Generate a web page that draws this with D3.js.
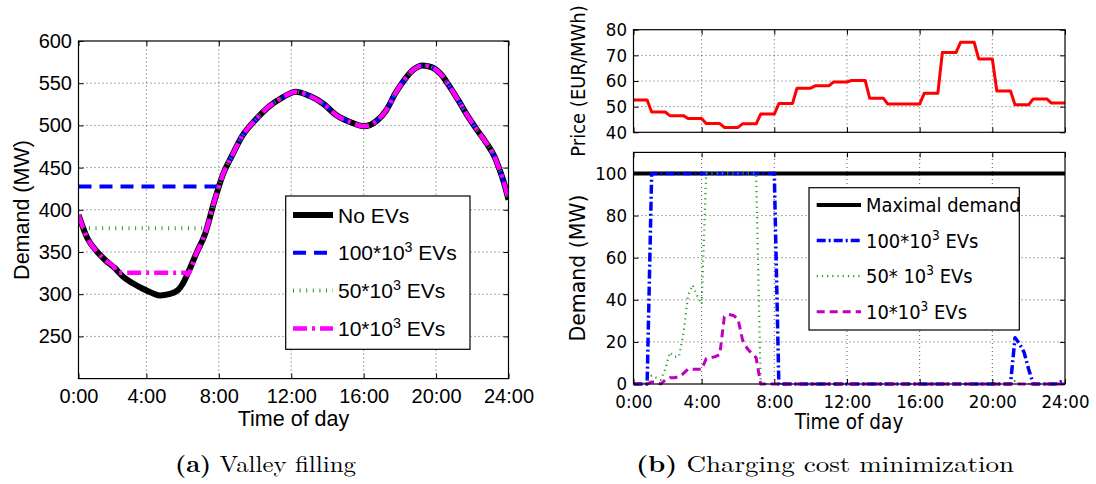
<!DOCTYPE html>
<html>
<head>
<meta charset="utf-8">
<script src="https://cdn.jsdelivr.net/npm/d3@7"></script>
<style>
  body { margin: 0; background: #fff; }
  svg { display: block; }
</style>
</head>
<body>
<svg id="fig" width="1096" height="484"></svg>
<script>
// ---------- shared time axis (quarter-hour samples, first sample = 0:00 label)
const timeTickHours  = [0.25, 4, 8, 12, 16, 20, 24];
const timeTickLabels = ["0:00", "4:00", "8:00", "12:00", "16:00", "20:00", "24:00"];

// ---------- (a) valley filling: demand without EVs (MW)
const baseHours  = [0.25, 0.75, 1.25, 1.75, 2.25, 2.75, 3.25, 3.75, 4.25, 4.75, 5.25, 5.75, 6, 6.25, 6.75, 7.25,
                    7.75, 8.25, 8.75, 9.25, 10, 10.75, 11.5, 12.25, 13, 13.75, 14.5, 15.25, 16, 16.75, 17.25, 17.75,
                    18.25, 18.75, 19.25, 19.75, 20.25, 20.75, 21.25, 21.75, 22.25, 22.75, 23.25, 23.5, 23.75, 24];
const baseDemand = [394, 366, 351, 340, 331, 320, 313, 307, 302, 298.5, 300, 305, 312, 323, 348, 372,
                    410, 443, 465, 486, 506, 522, 533, 540, 535, 526, 512, 504, 499, 506, 518, 538,
                    554, 566, 571, 569, 561, 546, 529, 511, 495, 480, 462, 448, 432, 412];

// flat valley levels (MW) and the hours over which each fleet fills the valley
const ev100Level = 427.5, ev100Spans = [[0.25, 8.0], [23.8, 24]];
const ev50Level  = 378,   ev50Spans  = [[0.55, 7.3]];
const ev10Level  = 325.5, ev10Spans  = [[2.4, 6.2]];
const demandTicks = [250, 300, 350, 400, 450, 500, 550, 600];

// ---------- (b) charging cost minimization
// hourly day-ahead price (EUR/MWh), hour 0 .. 23
const hourlyPrice = [52.6, 47.9, 46.5, 45.4, 43.4, 41.9, 43.3, 47.1, 51.2, 57.2, 58.1, 59.6,
                     60.2, 53.3, 51.0, 51.0, 55.2, 71.1, 75.1, 68.6, 56.1, 50.7, 53.0, 51.4];
const priceTicks = [40, 50, 60, 70, 80];

// charging demand (MW) at the listed sample hours
const maxHours = [0.25, 24];
const maxDemand = [100, 100];
const ev100Hours = [0.25, 1, 1.25, 8, 8.25, 21, 21.25, 21.5, 21.75, 22, 22.25, 23.5, 23.75, 24];
const ev100Load  = [0, 0, 100, 100, 0, 0, 22, 19, 15, 7, 0, 0, 1, 1];
const ev50Hours  = [0.25, 0.75, 1, 1.25, 1.5, 1.75, 2, 2.25, 2.5, 2.75, 3, 3.25, 3.5, 3.75, 4, 4.25,
                    7, 7.25, 21, 21.25, 21.5, 24];
const ev50Load   = [0, 0, 1, 4, 3, 2, 7, 15, 13, 13, 24, 42, 47, 42, 38, 100,
                    100, 0, 0, 1.5, 0, 0];
const ev10Hours  = [0.25, 1, 1.25, 1.5, 1.75, 2, 2.25, 2.5, 2.75, 3, 3.25, 3.5, 3.75, 4, 4.25, 4.5,
                    4.75, 5, 5.25, 5.5, 5.75, 6, 6.25, 6.5, 6.75, 7, 7.25, 24];
const ev10Load   = [0, 0, 1, 1, 0, 2, 3, 3, 3.5, 5, 7, 7, 7, 7, 12, 12.5,
                    13, 14, 32, 33, 32.5, 31, 21, 17, 14.5, 12.5, 0, 0];
const loadTicks = [0, 20, 40, 60, 80, 100];

const svg = d3.select("#fig");
const SANS_A = "'Liberation Sans', Arial, Helvetica, sans-serif";
const SANS_B = "'DejaVu Sans', 'Bitstream Vera Sans', sans-serif";
const SQZ = 0.9;            // horizontal squeeze of panel (b) lettering

// ---------- helpers
function zip(xs, ys) { return xs.map((x, i) => [x, ys[i]]); }

function filledCurve(level, spans) {
  let pts = zip(baseHours, baseDemand);
  spans.forEach(([a, b]) => {
    pts = pts.filter(p => p[0] < a || p[0] > b);
    pts.push([a, level], [b, level]);
  });
  return pts.sort((p, q) => p[0] - q[0]);
}

function stepPoints(values) {
  const pts = [];
  values.forEach((v, h) => { pts.push([h + 0.25, v], [h + 1, v]); });
  return pts;
}

function gridLines(g, xs, ys, xVals, yVals) {
  const [xa, xb] = xs.range(), [yb, yt] = ys.range();
  g.selectAll(null).data(xVals).join("line")
    .attr("x1", d => xs(d)).attr("x2", d => xs(d)).attr("y1", yb).attr("y2", yt)
    .attr("stroke", "#444").attr("stroke-width", 0.9).attr("stroke-dasharray", "1,3");
  g.selectAll(null).data(yVals).join("line")
    .attr("y1", d => ys(d)).attr("y2", d => ys(d)).attr("x1", xa).attr("x2", xb)
    .attr("stroke", "#444").attr("stroke-width", 0.9).attr("stroke-dasharray", "1,3");
}

// inward ticks on all four sides, labels on bottom/left when requested
function axesBox(g, xs, ys, yTicks, o) {
  const [xa, xb] = xs.range(), [yb, yt] = ys.range();
  const fmtX = o.xLabels ? ((d, i) => timeTickLabels[i]) : (() => "");
  const style = sel => sel.attr("font-family", o.font).attr("font-size", o.size);

  const bottom = g.append("g").attr("transform", `translate(0,${yb})`)
    .call(d3.axisBottom(xs).tickValues(timeTickHours).tickFormat(fmtX)
      .tickSizeInner(-5).tickSizeOuter(0).tickPadding(o.xPad));
  const top = g.append("g").attr("transform", `translate(0,${yt})`)
    .call(d3.axisTop(xs).tickValues(timeTickHours).tickFormat(() => "")
      .tickSizeInner(-5).tickSizeOuter(0));
  const left = g.append("g").attr("transform", `translate(${xa},0)`)
    .call(d3.axisLeft(ys).tickValues(yTicks)
      .tickSizeInner(-5).tickSizeOuter(0).tickPadding(o.yPad));
  const right = g.append("g").attr("transform", `translate(${xb},0)`)
    .call(d3.axisRight(ys).tickValues(yTicks).tickFormat(() => "")
      .tickSizeInner(-5).tickSizeOuter(0));
  [bottom, top, left, right].forEach(a => {
    style(a);
    a.select(".domain").remove();
    a.selectAll("line").attr("stroke", "#000").attr("stroke-width", 1);
    a.selectAll("text").attr("fill", "#000");
    if (o.squeeze) a.selectAll("text").attr("transform", `scale(${o.squeeze},1)`);
  });
  g.append("rect").attr("x", xa).attr("y", yt).attr("width", xb - xa).attr("height", yb - yt)
    .attr("fill", "none").attr("stroke", "#000").attr("stroke-width", 1.2);
}

function clipRect(id, xs, ys) {
  const [xa, xb] = xs.range(), [yb, yt] = ys.range();
  svg.append("clipPath").attr("id", id).append("rect")
    .attr("x", xa).attr("y", yt - 4).attr("width", xb - xa).attr("height", yb - yt + 8);
  return `url(#${id})`;
}

function evLabel(sel, lead, tail) {
  sel.append("tspan").text(lead);
  sel.append("tspan").attr("dy", -8).attr("font-size", "0.68em").text("3");
  sel.append("tspan").attr("dy", 8).text(tail);
}

// =====================================================================
// (a) Valley filling
// =====================================================================
const xA = d3.scaleLinear().domain([0.25, 24]).range([78.5, 508.5]);
const yA = d3.scaleLinear().domain([200, 600]).range([378.6, 41]);
const gA = svg.append("g");

gridLines(gA, xA, yA, timeTickHours.slice(1, -1), demandTicks.slice(0, -1));

const lineA = d3.line().x(d => xA(d[0])).y(d => yA(d[1])).curve(d3.curveMonotoneX);
const seriesA = [
  { pts: zip(baseHours, baseDemand), color: "#000", w: 6, dash: null, label: ["No EVs"] },
  { pts: filledCurve(ev100Level, ev100Spans), color: "#0000ff", w: 4, dash: "13,8", label: ["100*10", " EVs"] },
  { pts: filledCurve(ev50Level, ev50Spans), color: "#2a9a2a", w: 4, dash: "1,5.6", label: ["50*10", " EVs"] },
  { pts: filledCurve(ev10Level, ev10Spans), color: "#ff00ff", w: 4.5, dash: "14,5,3,5", label: ["10*10", " EVs"] }
];
const plotA = gA.append("g").attr("clip-path", clipRect("clipA", xA, yA));
seriesA.forEach(s => {
  plotA.append("path").attr("d", lineA(s.pts)).attr("fill", "none")
    .attr("stroke", s.color).attr("stroke-width", s.w)
    .attr("stroke-dasharray", s.dash).attr("stroke-linejoin", "round");
});

axesBox(gA, xA, yA, demandTicks, { xLabels: true, font: SANS_A, size: 20, xPad: 10, yPad: 6.5 });

gA.append("text").attr("x", 293.5).attr("y", 426).attr("text-anchor", "middle")
  .attr("font-family", SANS_A).attr("font-size", 21.5).text("Time of day");
gA.append("text").attr("transform", "translate(29,210) rotate(-90)").attr("text-anchor", "middle")
  .attr("font-family", SANS_A).attr("font-size", 21.5).text("Demand (MW)");

// legend (a)
const legA = gA.append("g");
legA.append("rect").attr("x", 285.7).attr("y", 196).attr("width", 184.3).attr("height", 153.3)
  .attr("fill", "#fff").attr("stroke", "#000").attr("stroke-width", 1.2);
seriesA.forEach((s, i) => {
  const y = 215 + i * 37.8;
  legA.append("line").attr("x1", 293).attr("x2", 333).attr("y1", y).attr("y2", y)
    .attr("stroke", s.color).attr("stroke-width", s.w).attr("stroke-dasharray", s.dash);
  const t = legA.append("text").attr("x", 338).attr("y", y + 7.5)
    .attr("font-family", SANS_A).attr("font-size", 21);
  if (s.label.length === 1) t.text(s.label[0]); else evLabel(t, s.label[0], s.label[1]);
});

// =====================================================================
// (b) Charging cost minimization
// =====================================================================
const xB = d3.scaleLinear().domain([0.25, 24]).range([633.5, 1065]);
const yP = d3.scaleLinear().domain([40, 80]).range([132.3, 29.7]);
const yD = d3.scaleLinear().domain([0, 110]).range([384, 152.4]);
const gB = svg.append("g");

// price panel
gridLines(gB, xB, yP, timeTickHours.slice(1, -1), priceTicks.slice(1, -1));
const lineP = d3.line().x(d => xB(d[0])).y(d => yP(d[1]));
gB.append("g").attr("clip-path", clipRect("clipP", xB, yP))
  .append("path").attr("d", lineP(stepPoints(hourlyPrice)))
  .attr("fill", "none").attr("stroke", "#ff0000").attr("stroke-width", 3).attr("stroke-linejoin", "round");
axesBox(gB, xB, yP, priceTicks, { xLabels: false, font: SANS_B, size: 18.5, xPad: 10, yPad: 6.5 / SQZ, squeeze: SQZ });

// charging demand panel
gridLines(gB, xB, yD, timeTickHours.slice(1, -1), loadTicks.slice(1));
const lineD = d3.line().x(d => xB(d[0])).y(d => yD(d[1]));
const seriesB = [
  { pts: zip(maxHours, maxDemand), color: "#000", w: 4, dash: null, label: ["Maximal demand"] },
  { pts: zip(ev100Hours, ev100Load), color: "#0000ff", w: 3.5, dash: "9,3,2,3", label: ["100*10", " EVs"] },
  { pts: zip(ev50Hours, ev50Load), color: "#2e9e2e", w: 2.2, dash: "1.2,4", label: ["50* 10", " EVs"] },
  { pts: zip(ev10Hours, ev10Load), color: "#c000c0", w: 3, dash: "8,5", label: ["10*10", " EVs"] }
];
const plotD = gB.append("g").attr("clip-path", clipRect("clipD", xB, yD));
seriesB.forEach(s => {
  plotD.append("path").attr("d", lineD(s.pts)).attr("fill", "none")
    .attr("stroke", s.color).attr("stroke-width", s.w)
    .attr("stroke-dasharray", s.dash).attr("stroke-linejoin", "round");
});
axesBox(gB, xB, yD, loadTicks, { xLabels: true, font: SANS_B, size: 18.5, xPad: 10.5, yPad: 6.5 / SQZ, squeeze: SQZ });

gB.append("text").attr("transform", `translate(849,429) scale(${SQZ},1)`).attr("text-anchor", "middle")
  .attr("font-family", SANS_B).attr("font-size", 20.5).text("Time of day");
gB.append("text").attr("transform", `translate(585,81) rotate(-90) scale(${SQZ},1)`).attr("text-anchor", "middle")
  .attr("font-family", SANS_B).attr("font-size", 20).text("Price (EUR/MWh)");
gB.append("text").attr("transform", "translate(585,268) rotate(-90) scale(0.93,1)").attr("text-anchor", "middle")
  .attr("font-family", SANS_B).attr("font-size", 22).text("Demand (MW)");

// legend (b)
const legB = gB.append("g");
legB.append("rect").attr("x", 809).attr("y", 187.7).attr("width", 210.3).attr("height", 142.3)
  .attr("fill", "#fff").attr("stroke", "#000").attr("stroke-width", 1.2);
seriesB.forEach((s, i) => {
  const y = 205 + i * 35.6;
  legB.append("line").attr("x1", 816.7).attr("x2", 861).attr("y1", y).attr("y2", y)
    .attr("stroke", s.color).attr("stroke-width", s.w).attr("stroke-dasharray", s.dash);
  const t = legB.append("text").attr("transform", `translate(866,${y + 7}) scale(0.92,1)`)
    .attr("font-family", SANS_B).attr("font-size", 19.5);
  if (s.label.length === 1) t.text(s.label[0]); else evLabel(t, s.label[0], s.label[1]);
});

// ---------- sub-figure captions
const SERIF = "'Latin Modern Roman', 'CMU Serif', 'Liberation Serif', 'DejaVu Serif', serif";
function caption(cx, w, tag, body) {
  const t = svg.append("text").attr("x", cx - w / 2).attr("y", 472)
    .attr("font-family", SERIF).attr("font-size", 23)
    .attr("textLength", w).attr("lengthAdjust", "spacingAndGlyphs");
  t.append("tspan").attr("font-weight", "bold").text(tag);
  t.append("tspan").text(" " + body);
}
caption(265.5, 181, "(a)", "Valley filling");
caption(825, 378, "(b)", "Charging cost minimization");
</script>
</body>
</html>
